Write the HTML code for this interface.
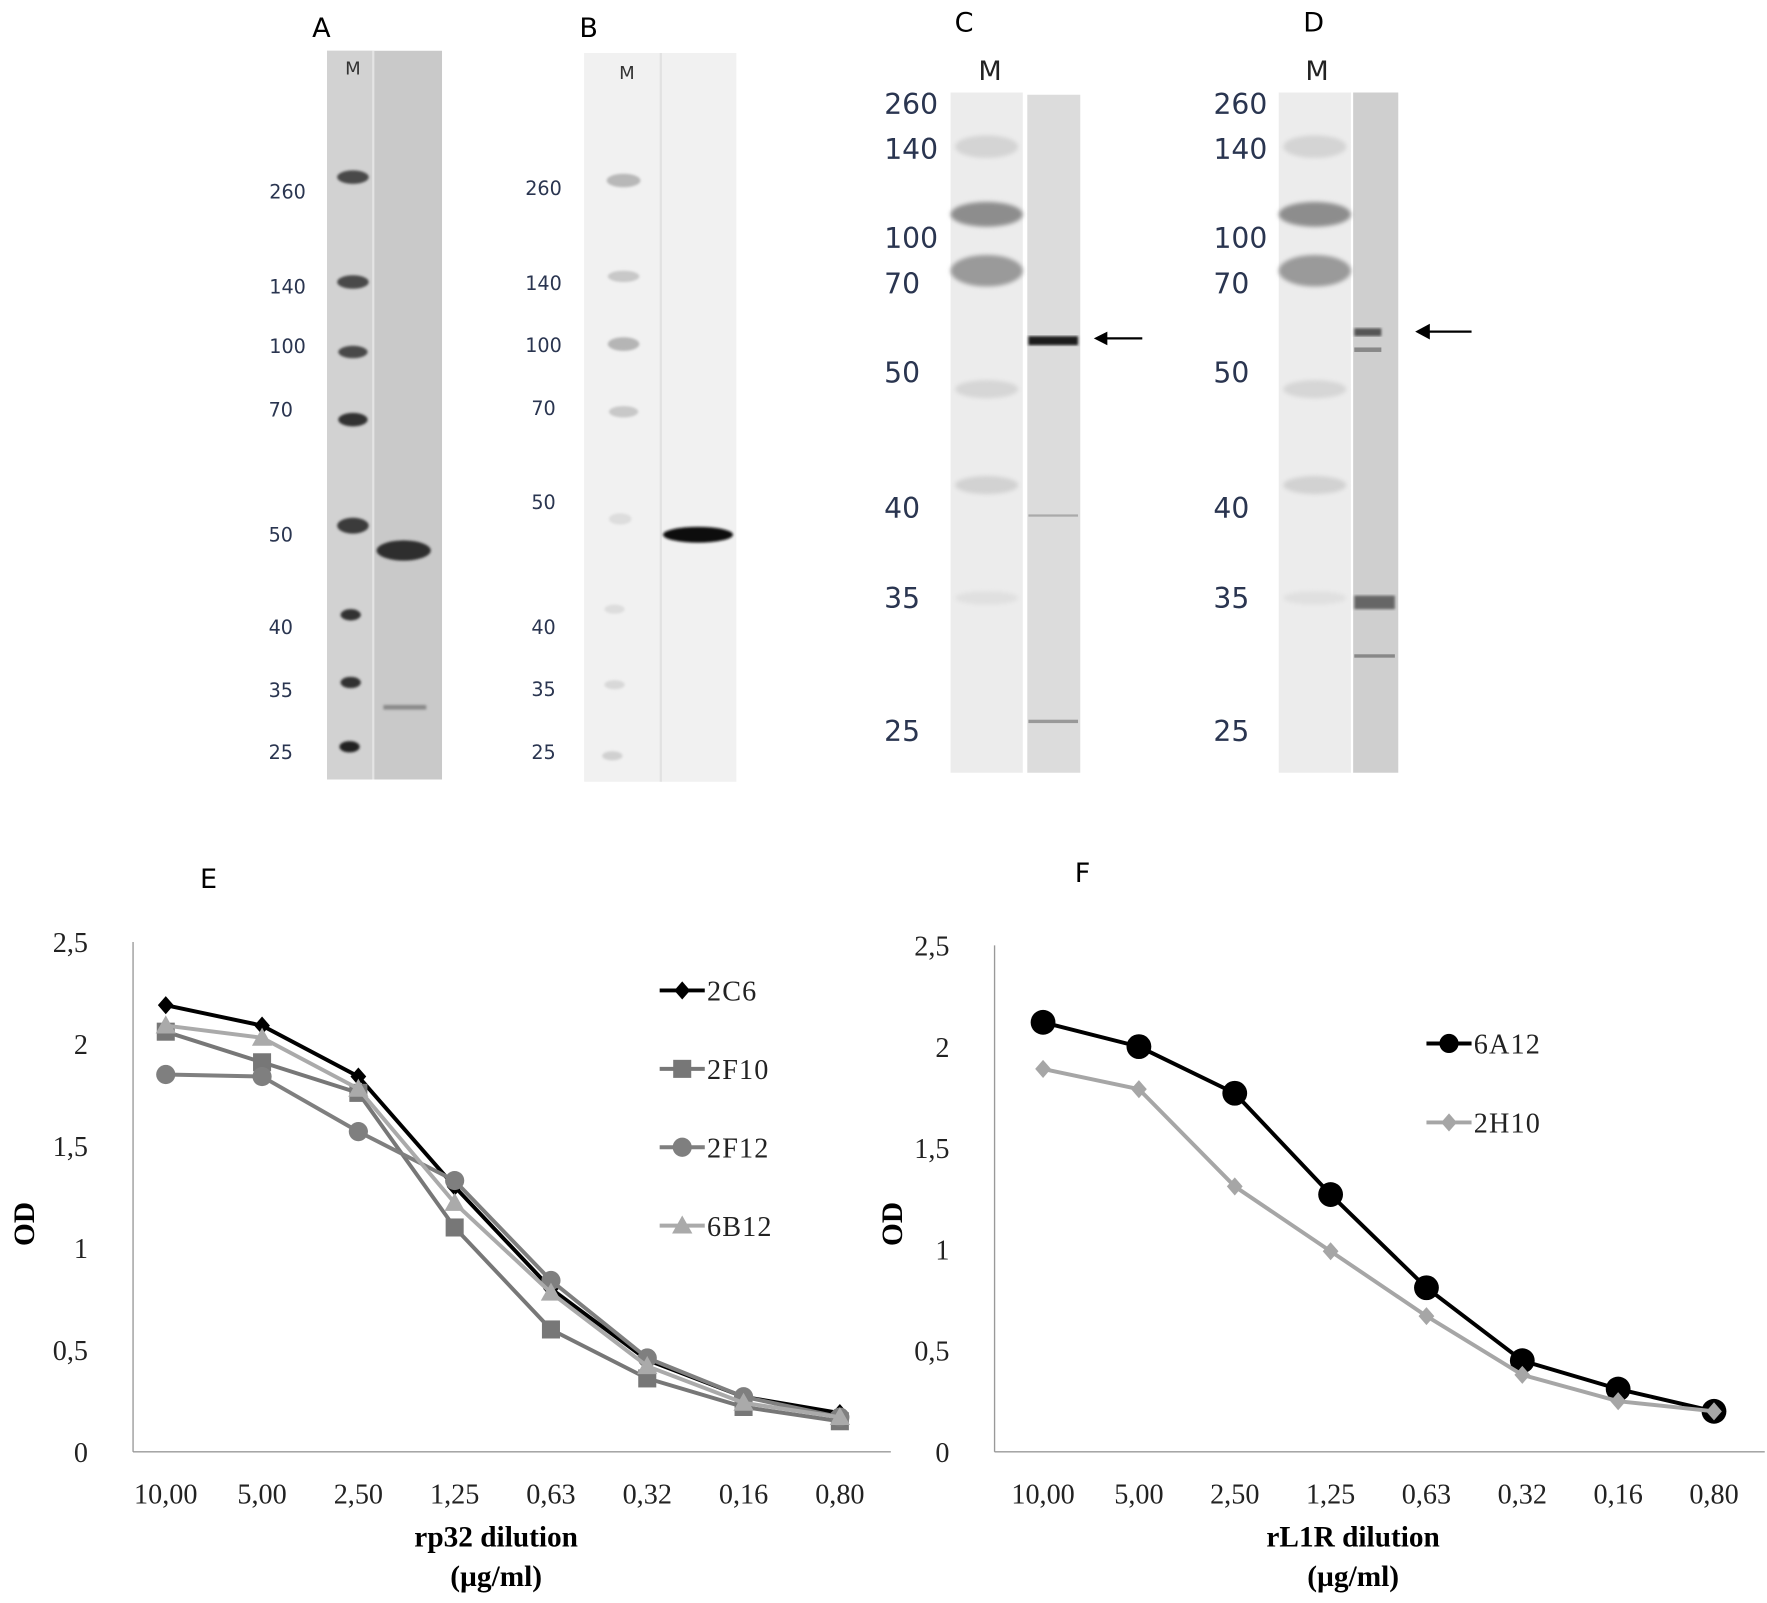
<!DOCTYPE html>
<html><head><meta charset="utf-8"><style>
html,body{margin:0;padding:0;background:#fff;}
svg{display:block;}
.sans{font-family:"DejaVu Sans","Liberation Sans",sans-serif;}
.serif{font-family:"Liberation Serif",serif;}
</style></head><body>
<svg id="fig" width="1767" height="1603" viewBox="0 0 1567 1421" preserveAspectRatio="none" xmlns="http://www.w3.org/2000/svg">
<defs>
<filter id="blur1"><feGaussianBlur stdDeviation="2"/></filter>
<filter id="blur2"><feGaussianBlur stdDeviation="1.2"/></filter>
</defs>
<rect x="0" y="0" width="1567" height="1421" fill="#fff"/>

<!-- Panel A -->
<g>
<text x="285" y="33" font-size="24" class="sans" text-anchor="middle">A</text>
<rect x="290" y="45" width="102" height="646" fill="#c9c9c9"/>
<rect x="290" y="45" width="40" height="646" fill="#d2d2d2"/>
<line x1="331" y1="45" x2="331" y2="691" stroke="#e4e4e4" stroke-width="2"/>
<text x="313" y="66" font-size="16" class="sans" fill="#333" text-anchor="middle">M</text>
<g filter="url(#blur2)" fill="#4a4a4a">
<ellipse cx="313" cy="157" rx="14" ry="6"/><ellipse cx="313" cy="250" rx="14" ry="6"/>
<ellipse cx="313" cy="312" rx="13" ry="5.5"/><ellipse cx="313" cy="372" rx="13" ry="6" fill="#333"/>
<ellipse cx="313" cy="466" rx="14" ry="7" fill="#3a3a3a"/><ellipse cx="311" cy="545" rx="9" ry="5" fill="#333"/>
<ellipse cx="311" cy="605" rx="9" ry="5" fill="#333"/><ellipse cx="310" cy="662" rx="9" ry="5" fill="#222"/>
<ellipse cx="358" cy="488" rx="24" ry="9" fill="#2f2f2f"/>
<rect x="340" y="625" width="38" height="4" fill="#888"/>
</g>
<g class="sans" font-size="17" fill="#2a3550" text-anchor="middle">
<text x="255" y="176">260</text><text x="255" y="260">140</text><text x="255" y="313">100</text><text x="249" y="369">70</text>
<text x="249" y="480">50</text><text x="249" y="562">40</text><text x="249" y="618">35</text><text x="249" y="673">25</text>
</g>
</g>

<!-- Panel B -->
<g>
<text x="522" y="33" font-size="24" class="sans" text-anchor="middle">B</text>
<rect x="518" y="47" width="135" height="646" fill="#f1f1f1"/>
<line x1="586" y1="47" x2="586" y2="693" stroke="#e2e2e2" stroke-width="2"/>
<text x="556" y="70" font-size="16" class="sans" fill="#333" text-anchor="middle">M</text>
<g filter="url(#blur2)" fill="#c8c8c8">
<ellipse cx="553" cy="160" rx="15" ry="6" fill="#b8b8b8"/><ellipse cx="553" cy="245" rx="14" ry="5"/>
<ellipse cx="553" cy="305" rx="14" ry="6" fill="#b5b5b5"/><ellipse cx="553" cy="365" rx="13" ry="5"/>
<ellipse cx="550" cy="460" rx="10" ry="5" fill="#ddd"/><ellipse cx="545" cy="540" rx="9" ry="4" fill="#ddd"/>
<ellipse cx="545" cy="607" rx="9" ry="4" fill="#d8d8d8"/><ellipse cx="543" cy="670" rx="9" ry="4" fill="#d0d0d0"/>
<ellipse cx="619" cy="474" rx="31" ry="7" fill="#111"/>
</g>
<g class="sans" font-size="17" fill="#2a3550" text-anchor="middle">
<text x="482" y="173">260</text><text x="482" y="257">140</text><text x="482" y="312">100</text><text x="482" y="368">70</text>
<text x="482" y="451">50</text><text x="482" y="562">40</text><text x="482" y="617">35</text><text x="482" y="673">25</text>
</g>
</g>

<!-- Panel C -->
<g>
<text x="855" y="28" font-size="24" class="sans" text-anchor="middle">C</text>
<text x="878" y="71" font-size="24" class="sans" fill="#222" text-anchor="middle">M</text>
<rect x="843" y="82" width="64" height="603" fill="#ececec"/>
<rect x="911" y="84" width="47" height="601" fill="#dcdcdc"/>
<g filter="url(#blur1)">
<ellipse cx="875" cy="130" rx="28" ry="10" fill="#d4d4d4"/>
<ellipse cx="875" cy="190" rx="32" ry="11" fill="#8d8d8d"/>
<ellipse cx="875" cy="240" rx="32" ry="14" fill="#9a9a9a"/>
<ellipse cx="875" cy="345" rx="28" ry="8" fill="#d6d6d6"/>
<ellipse cx="875" cy="430" rx="28" ry="8" fill="#d2d2d2"/>
<ellipse cx="875" cy="530" rx="28" ry="6" fill="#e0e0e0"/>
</g>
<rect x="912" y="298" width="44" height="8" fill="#1a1a1a" filter="url(#blur2)"/>
<rect x="912" y="456" width="44" height="2" fill="#aaa"/>
<rect x="912" y="638" width="44" height="3" fill="#999"/>
<line x1="978" y1="300" x2="1013" y2="300" stroke="#000" stroke-width="2"/>
<polygon points="970,300 982,294 982,306" fill="#000"/>
<g class="sans" font-size="25" fill="#2a3550" text-anchor="middle">
<text x="808" y="101">260</text><text x="808" y="141">140</text><text x="808" y="220">100</text><text x="800" y="260">70</text>
<text x="800" y="339">50</text><text x="800" y="459">40</text><text x="800" y="539">35</text><text x="800" y="657">25</text>
</g>
</g>

<!-- Panel D -->
<g>
<text x="1165" y="28" font-size="24" class="sans" text-anchor="middle">D</text>
<text x="1168" y="71" font-size="24" class="sans" fill="#222" text-anchor="middle">M</text>
<rect x="1134" y="82" width="64" height="603" fill="#ececec"/>
<rect x="1200" y="82" width="40" height="603" fill="#cfcfcf"/>
<g filter="url(#blur1)">
<ellipse cx="1166" cy="130" rx="28" ry="10" fill="#d4d4d4"/>
<ellipse cx="1166" cy="190" rx="32" ry="11" fill="#8d8d8d"/>
<ellipse cx="1166" cy="240" rx="32" ry="14" fill="#9a9a9a"/>
<ellipse cx="1166" cy="345" rx="28" ry="8" fill="#d6d6d6"/>
<ellipse cx="1166" cy="430" rx="28" ry="8" fill="#d2d2d2"/>
<ellipse cx="1166" cy="530" rx="28" ry="6" fill="#e0e0e0"/>
</g>
<rect x="1201" y="291" width="24" height="7" fill="#555" filter="url(#blur2)"/>
<rect x="1201" y="308" width="24" height="4" fill="#888"/>
<rect x="1201" y="528" width="36" height="12" fill="#666" filter="url(#blur2)"/>
<rect x="1201" y="580" width="36" height="3" fill="#888"/>
<line x1="1263" y1="294" x2="1305" y2="294" stroke="#000" stroke-width="2"/>
<polygon points="1255,294 1268,287 1268,301" fill="#000"/>
<g class="sans" font-size="25" fill="#2a3550" text-anchor="middle">
<text x="1100" y="101">260</text><text x="1100" y="141">140</text><text x="1100" y="220">100</text><text x="1092" y="260">70</text>
<text x="1092" y="339">50</text><text x="1092" y="459">40</text><text x="1092" y="539">35</text><text x="1092" y="657">25</text>
</g>
</g>

<g id="chartE"></g>
<g id="chartF"></g>
</svg>
<script>
const categories = ["10,00","5,00","2,50","1,25","0,63","0,32","0,16","0,80"];
const yTicks = [0,0.5,1,1.5,2,2.5];
const yTickLabels = ["0","0,5","1","1,5","2","2,5"];
const e2C6 = [2.19,2.09,1.84,1.30,0.80,0.45,0.27,0.19];
const e2F10 = [2.06,1.91,1.76,1.10,0.60,0.36,0.22,0.15];
const e2F12 = [1.85,1.84,1.57,1.33,0.84,0.46,0.27,0.17];
const e6B12 = [2.09,2.03,1.78,1.22,0.78,0.42,0.24,0.17];
const f6A12 = [2.12,2.00,1.77,1.27,0.81,0.45,0.31,0.20];
const f2H10 = [1.89,1.79,1.31,0.99,0.67,0.38,0.25,0.20];

const NS = "http://www.w3.org/2000/svg";
function mk(parent, tag, attrs, text){
  const el = document.createElementNS(NS, tag);
  for (const k in attrs) el.setAttribute(k, attrs[k]);
  if (text !== undefined) el.textContent = text;
  parent.appendChild(el);
  return el;
}
function marker(g, shape, x, y, color){
  let el;
  if (shape === "diamond") el = mk(g, "polygon", {points:`${x},${y-8} ${x+7},${y} ${x},${y+8} ${x-7},${y}`, fill:color});
  else if (shape === "square") el = mk(g, "rect", {x:x-8, y:y-8, width:16, height:16, fill:color});
  else if (shape === "circle") el = mk(g, "circle", {cx:x, cy:y, r:8.5, fill:color});
  else if (shape === "bigcircle") el = mk(g, "circle", {cx:x, cy:y, r:11, fill:color});
  else if (shape === "triangle") el = mk(g, "polygon", {points:`${x},${y-9} ${x+9},${y+7} ${x-9},${y+7}`, fill:color});
  return el;
}
function drawChart(root, cfg){
  const yS = v => cfg.y0 - v / 2.5 * (cfg.y0 - cfg.yTop);
  const xS = i => cfg.x0 + i * cfg.dx;
  const ax = mk(root, "line", {x1:cfg.axX, y1:cfg.yTop, x2:cfg.axX, y2:cfg.y0, stroke:"#999", "stroke-width":1.2});
  
  
  const bx = mk(root, "line", {x1:cfg.axX, y1:cfg.y0, x2:cfg.axEnd, y2:cfg.y0, stroke:"#999", "stroke-width":1.2});
  
  
  yTicks.forEach((t, i) => {
    const tl = mk(root, "text", {x:cfg.axX - 40, y:yS(t) + 9, "font-size":25, "text-anchor":"end", class:"serif", fill:"#222"}, yTickLabels[i]);
    
    
  });
  categories.forEach((c, i) => {
    const xl = mk(root, "text", {x:xS(i), y:cfg.y0 + 46, "font-size":25, "text-anchor":"middle", class:"serif", fill:"#222"}, c);
    
    
  });
  const yt = mk(root, "text", {x:0, y:0, "font-size":26, "font-weight":"bold", "text-anchor":"middle", class:"serif", transform:`translate(${cfg.odX},${cfg.odY}) rotate(-90)`}, "OD");
  
  
  const t1 = mk(root, "text", {x:cfg.titleX, y:cfg.y0 + 84, "font-size":26, "font-weight":"bold", "text-anchor":"middle", class:"serif"}, cfg.title);
  
  
  const t2 = mk(root, "text", {x:cfg.titleX, y:cfg.y0 + 119, "font-size":26, "font-weight":"bold", "text-anchor":"middle", class:"serif"}, "(µg/ml)");
  
  
  const pl = mk(root, "text", {x:cfg.panelX, y:cfg.panelY, "font-size":24, "text-anchor":"middle", class:"sans"}, cfg.panel);
  
  
  cfg.series.forEach((s, si) => {
    const g = mk(root, "g", {});
    
    
    const pts = s.values.map((v, i) => `${xS(i)},${yS(v)}`).join(" ");
    const line = mk(g, "polyline", {points:pts, fill:"none", stroke:s.color, "stroke-width":3.5, "stroke-linejoin":"round"});
    
    
    s.values.forEach((v, i) => {
      const m = marker(g, s.shape, xS(i), yS(v), s.color);
      
      
    });
    const lg = mk(root, "g", {});
    
    
    const ly = cfg.legY + si * cfg.legDy;
    mk(lg, "line", {x1:cfg.legX, y1:ly, x2:cfg.legX + 40, y2:ly, stroke:s.color, "stroke-width":3.5});
    marker(lg, s.shape === "bigcircle" ? "circle" : s.shape, cfg.legX + 20, ly, s.color);
    mk(lg, "text", {x:cfg.legX + 42, y:ly + 9, "font-size":25, "letter-spacing":"1", class:"serif", fill:"#222"}, s.name);
  });
}
drawChart(document.getElementById("chartE"), {
  x0:147, dx:85.4, y0:1287, yTop:835, axX:118, axEnd:790, odX:30, odY:1085,
  title:"rp32 dilution", titleX:440, panel:"E", panelX:185, panelY:787,
  legX:585, legY:878, legDy:69.5,
  series:[
    {name:"2C6", values:e2C6, color:"#000", shape:"diamond"},
    {name:"2F10", values:e2F10, color:"#777", shape:"square"},
    {name:"2F12", values:e2F12, color:"#7f7f7f", shape:"circle"},
    {name:"6B12", values:e6B12, color:"#aaa", shape:"triangle"}
  ]
});
drawChart(document.getElementById("chartF"), {
  x0:925, dx:85, y0:1287, yTop:838, axX:882, axEnd:1565, odX:800, odY:1085,
  title:"rL1R dilution", titleX:1200, panel:"F", panelX:960, panelY:782,
  legX:1265, legY:925, legDy:70,
  series:[
    {name:"6A12", values:f6A12, color:"#000", shape:"bigcircle"},
    {name:"2H10", values:f2H10, color:"#a6a6a6", shape:"diamond"}
  ]
});
</script>
</body></html>
